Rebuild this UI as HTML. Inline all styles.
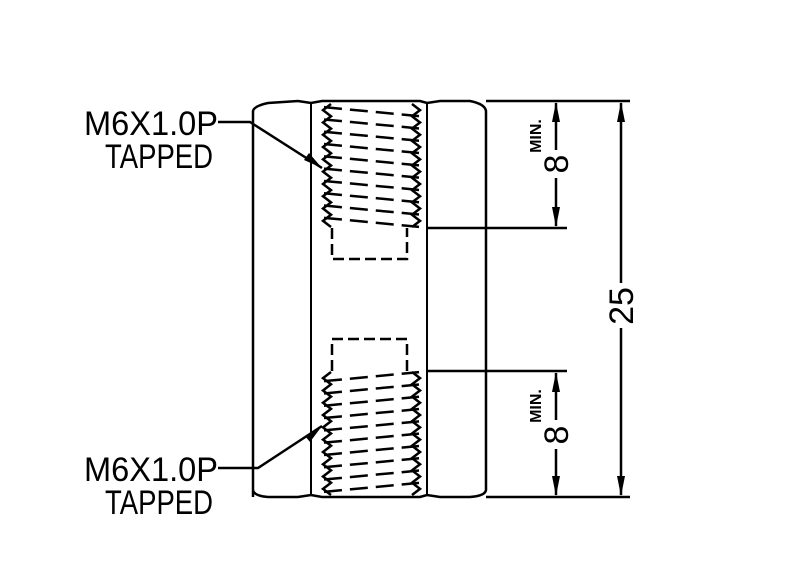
<!DOCTYPE html>
<html><head><meta charset="utf-8"><style>
html,body{margin:0;padding:0;background:#fff;width:800px;height:576px;overflow:hidden}
svg{display:block}
text{font-family:"Liberation Sans",sans-serif;fill:#000}
</style></head><body>
<svg id="s" width="800" height="576" viewBox="0 0 800 576" xmlns="http://www.w3.org/2000/svg">
<g stroke="#000" fill="none" stroke-width="2.5">
 <path d="M253,497 L253,111 Q254,106 268,103 L298,101 L311,103 L322,101 L420,101 L427,103 L440,101 L470,101 Q485,104 486,111 L486,490 Q485,496 470,497 L440,497 L427,495 L420,497 L322,497 L311,495 L298,497 L268,497 Q254,496 253,490 Z"/>
 <line x1="311" y1="103" x2="311" y2="495" stroke-width="2"/>
 <line x1="427" y1="103" x2="427" y2="495" stroke-width="2"/>
 <path d="M332,228 L332,259 L407,259 L407,228" stroke-dasharray="11,5"/>
 <path d="M332,371 L332,339 L407,339 L407,371" stroke-dasharray="11,5"/>
 <g id="th"></g>
 <line x1="486" y1="101" x2="630" y2="101"/>
 <line x1="486" y1="497" x2="630" y2="497"/>
 <line x1="427" y1="228" x2="567" y2="228"/>
 <line x1="427" y1="371" x2="567" y2="371"/>
 <line x1="556" y1="103" x2="556" y2="150"/><line x1="556" y1="178" x2="556" y2="226"/>
 <line x1="556" y1="373" x2="556" y2="420"/><line x1="556" y1="449" x2="556" y2="495"/>
 <line x1="621" y1="103" x2="621" y2="283"/><line x1="621" y1="328" x2="621" y2="495"/>
 <polyline points="218,122 250,122 322,168"/>
 <polyline points="218,468 258,468 322,426"/>
</g>
<g fill="#000">
 <polygon points="556,102 552,122 560,122"/><polygon points="556,227 552,207 560,207"/>
 <polygon points="556,372 552,392 560,392"/><polygon points="556,496 552,476 560,476"/>
 <polygon points="621,102 617,122 625,122"/><polygon points="621,496 617,476 625,476"/>
 <polygon points="322,168 304,160 309,153"/>
 <polygon points="322,426 305,436 310,442"/>
</g>
<text x="84" y="135" font-size="34" textLength="134" lengthAdjust="spacingAndGlyphs">M6X1.0P</text>
<text x="105" y="168" font-size="34" textLength="108" lengthAdjust="spacingAndGlyphs">TAPPED</text>
<text x="84" y="481" font-size="34" textLength="134" lengthAdjust="spacingAndGlyphs">M6X1.0P</text>
<text x="105" y="514" font-size="34" textLength="108" lengthAdjust="spacingAndGlyphs">TAPPED</text>
<text transform="translate(568,164) rotate(-90)" font-size="34" text-anchor="middle">8</text>
<text transform="translate(568,435) rotate(-90)" font-size="34" text-anchor="middle">8</text>
<text transform="translate(633,306) rotate(-90)" font-size="34" text-anchor="middle">25</text>
<text transform="translate(541,136) rotate(-90)" font-size="16" font-weight="bold" text-anchor="middle">MIN.</text>
<text transform="translate(541,406) rotate(-90)" font-size="16" font-weight="bold" text-anchor="middle">MIN.</text>
</svg>
<script>
(function(){
var g=document.getElementById('th'),ns='http://www.w3.org/2000/svg';
function add(tag,a){var e=document.createElementNS(ns,tag);for(var k in a)e.setAttribute(k,a[k]);g.appendChild(e);}
function thread(y0,y1,dir){
 var n=10,p=(y1-y0)/n,L='',R='';
 for(var i=0;i<=n;i++){
  var y=y0+i*p;
  L+=(i?' L':'M')+'331,'+y+(i<n?' L323,'+(y+p/2):'');
  R+=(i?' L':'M')+'412,'+y+(i<n?' L420,'+(y+p/2):'');
 }
 add('path',{d:L,'stroke-width':2.5});
 add('path',{d:R,'stroke-width':2.5});
 for(var i=0;i<n;i++){
  var y=y0+i*p+p/2;
  add('line',{x1:324,y1:y-dir*3,x2:419,y2:y+dir*6,'stroke-dasharray':'18,8','stroke-width':2.5});
 }
}
thread(104,227,1);
thread(372,495,-1);
})();
</script>
</body></html>
